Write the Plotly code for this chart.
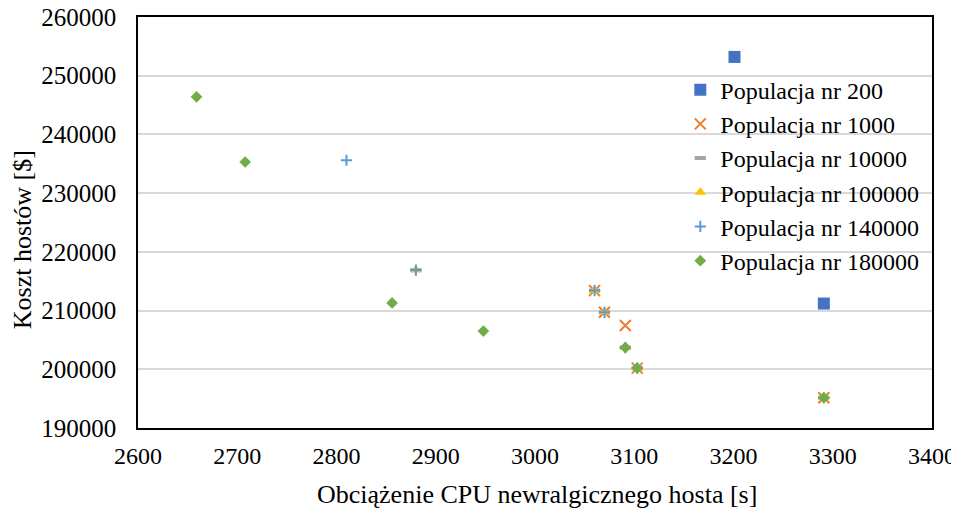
import plotly.graph_objects as go

# Data
pop200_x = [3201, 3291]
pop200_y = [253200, 211200]

pop1000_x = [3060, 3070, 3091, 3103, 3291]
pop1000_y = [213400, 209700, 207450, 200200, 195150]

pop10000_x = [2880, 3060, 3070, 3091, 3103, 3291]
pop10000_y = [216900, 213400, 209700, 203700, 200200, 195150]

pop100000_x = [2880, 3060, 3070, 3091, 3103, 3291]
pop100000_y = [216900, 213400, 209700, 203700, 200200, 195150]

pop140000_x = [2810, 2880, 3060, 3070, 3091, 3103, 3291]
pop140000_y = [235600, 216900, 213400, 209700, 203700, 200200, 195150]

pop180000_x = [2659, 2708, 2856, 2948, 3091, 3103, 3291]
pop180000_y = [246400, 235300, 211300, 206500, 203700, 200200, 195150]

x_ticks = [2600, 2700, 2800, 2900, 3000, 3100, 3200, 3300, 3400]
y_ticks = [190000, 200000, 210000, 220000, 230000, 240000, 250000, 260000]

FONT = "Liberation Serif"

fig = go.Figure()
fig.add_trace(go.Scatter(x=pop200_x, y=pop200_y, mode="markers", name="Populacja nr 200",
                         marker=dict(symbol="square", size=12, color="#4472C4")))
fig.add_trace(go.Scatter(x=pop1000_x, y=pop1000_y, mode="markers", name="Populacja nr 1000",
                         marker=dict(symbol="x-thin", size=11, color="#ED7D31",
                                     line=dict(width=2, color="#ED7D31"))))
fig.add_trace(go.Scatter(x=pop10000_x, y=pop10000_y, mode="markers", name="Populacja nr 10000",
                         marker=dict(symbol="line-ew", size=8, color="#A5A5A5",
                                     line=dict(width=4, color="#A5A5A5"))))
fig.add_trace(go.Scatter(x=pop100000_x, y=pop100000_y, mode="markers", name="Populacja nr 100000",
                         marker=dict(symbol="triangle-up", size=10, color="#FFC000")))
fig.add_trace(go.Scatter(x=pop140000_x, y=pop140000_y, mode="markers", name="Populacja nr 140000",
                         marker=dict(symbol="cross-thin", size=8, color="#5B9BD5",
                                     line=dict(width=2, color="#5B9BD5"))))
fig.add_trace(go.Scatter(x=pop180000_x, y=pop180000_y, mode="markers", name="Populacja nr 180000",
                         marker=dict(symbol="diamond", size=9, color="#70AD47")))

fig.update_layout(
    width=951, height=502,
    margin=dict(l=130, r=27, t=9, b=82, autoexpand=False),
    paper_bgcolor="white", plot_bgcolor="white",
    font=dict(family=FONT, size=24, color="black"),
    showlegend=True,
    legend=dict(x=0.683, y=0.877, xanchor="left", yanchor="top",
                bgcolor="rgba(0,0,0,0)", font=dict(family=FONT, size=24, color="black")),
    annotations=[
        dict(text="Obciążenie CPU newralgicznego hosta [s]", xref="paper", yref="paper",
             x=0.5025, y=-0.162, xanchor="center", yanchor="middle", showarrow=False,
             font=dict(family=FONT, size=26, color="black")),
        dict(text="Koszt hostów [$]", xref="paper", yref="paper",
             x=-0.146, y=0.457, xanchor="center", yanchor="middle", showarrow=False,
             textangle=-90, font=dict(family=FONT, size=26, color="black")),
    ],
)
fig.update_xaxes(range=[2600, 3400], tickvals=x_ticks, showgrid=False, zeroline=False,
                 showline=True, mirror=True, linecolor="black", linewidth=1.5, automargin=False,
                 ticks="", ticklabelstandoff=5, ticklabeloverflow="allow",
                 tickfont=dict(family=FONT, size=24))
fig.update_yaxes(range=[190000, 260000], tickvals=y_ticks, showgrid=True, gridcolor="#D9D9D9",
                 gridwidth=1.5, zeroline=False, showline=True, mirror=True, linecolor="black",
                 linewidth=1.5, ticks="", ticklabelstandoff=15, tickformat="d", automargin=False,
                 ticklabeloverflow="allow", tickfont=dict(family=FONT, size=25))

fig.write_html("out.html")
